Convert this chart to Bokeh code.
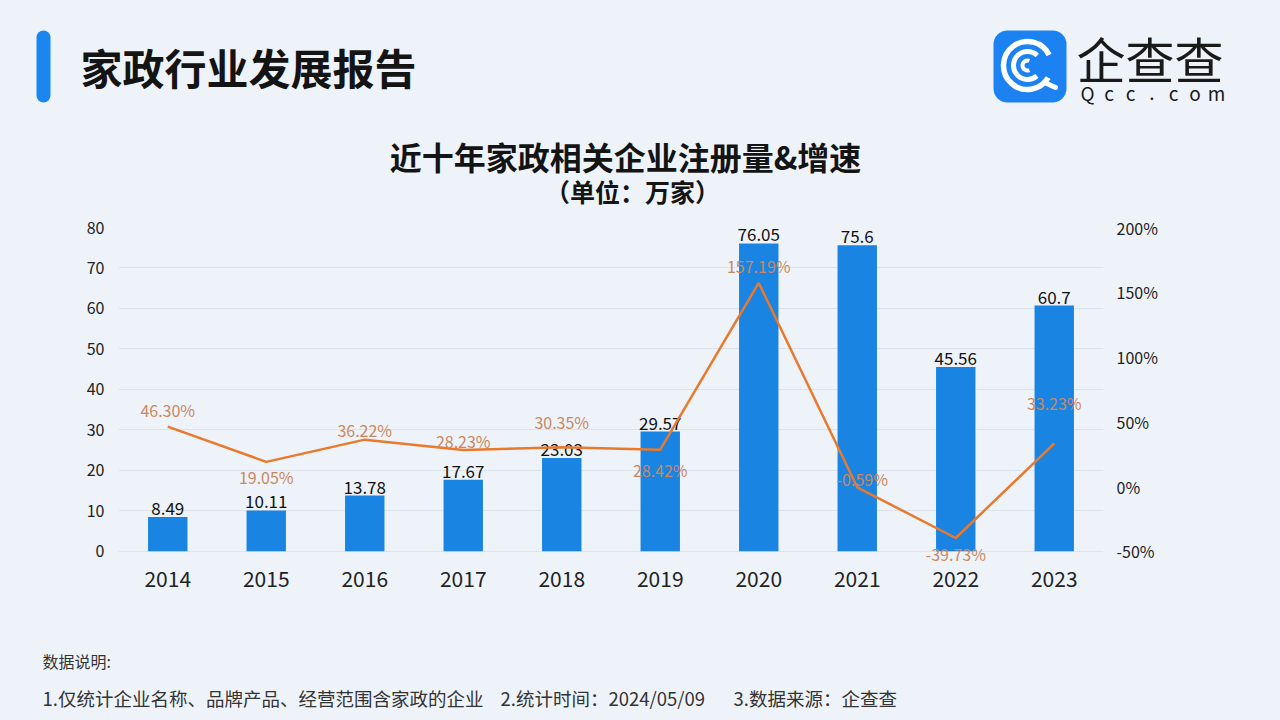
from bokeh.plotting import figure
from bokeh.models import (Range1d, FactorRange, LinearAxis, FixedTicker, PrintfTickFormatter,
                          ColumnDataSource, LabelSet)
from bokeh.layouts import column
from bokeh.embed import file_html
from bokeh.resources import INLINE
from bokeh.core.properties import value

# ---------------- data ----------------
years = ["2014", "2015", "2016", "2017", "2018", "2019", "2020", "2021", "2022", "2023"]
registrations = [8.49, 10.11, 13.78, 17.67, 23.03, 29.57, 76.05, 75.6, 45.56, 60.7]   # 万家
growth_pct = [46.30, 19.05, 36.22, 28.23, 30.35, 28.42, 157.19, -0.59, -39.73, 33.23]  # %
left_ticks = [0, 10, 20, 30, 40, 50, 60, 70, 80]
right_ticks = [-50, 0, 50, 100, 150, 200]

main_title = "家政行业发展报告"
chart_title = "近十年家政相关企业注册量&增速"
chart_subtitle = "（单位：万家）"
note_head = "数据说明:"
note_parts = ["1.仅统计企业名称、品牌产品、经营范围含家政的企业",
              "2.统计时间：2024/05/09",
              "3.数据来源：企查查"]

# ---------------- style ----------------
FONT_NAME = "Noto Sans CJK SC"
FONT = value(FONT_NAME)
BG = "#eef3fa"
BAR = "#1a84e3"
LINE = "#e8792d"
PCT_TXT = "#c98860"
pct_label_dy = [-17, 15, -10, -9, -25, 20, -17, -8, 16, -41]   # px, + = down
pct_label_dx = [0, 0, 0, 0, 0, 0, 0, 5, 0, 0]
note_x = [42, 500, 733]

W = 1280


def blank(h, y0, y1):
    f = figure(width=W, height=h, x_range=Range1d(0, W), y_range=Range1d(y1, y0),
               output_backend="svg", toolbar_location=None, min_border=0,
               x_axis_type=None, y_axis_type=None, frame_align=False)
    f.grid.visible = False
    f.outline_line_color = None
    f.background_fill_color = BG
    f.border_fill_color = BG
    return f


# ---------------- header ----------------
head = blank(215, 0, 215)
head.quad(left=[36], right=[50], top=[30], bottom=[102], fill_color="#1a86f0",
          line_color=None, border_radius=7)
head.text(x=[80], y=[66], text=[main_title], text_font=FONT, text_font_size="42px",
          text_font_style="bold", text_baseline="middle", text_color="#141414")

# logo
head.quad(left=[993], right=[1066], top=[30], bottom=[102], fill_color="#1c82f2",
          line_color=None, border_radius=14)
cx, cy = 1027, 65
head.arc(x=[cx], y=[cy], radius=24, start_angle=0.45, end_angle=5.75,
         line_color="white", line_width=5.5)
head.arc(x=[cx], y=[cy], radius=14, start_angle=0.8, end_angle=5.45,
         line_color="white", line_width=5)
head.arc(x=[cx], y=[cy], radius=5, start_angle=1.2, end_angle=5.1,
         line_color="white", line_width=4)
head.segment(x0=[cx + 17], y0=[cy + 17], x1=[cx + 28], y1=[cy + 22],
             line_color="white", line_width=5, line_cap="round")
head.text(x=[1076], y=[57], text=["企查查"], text_font=FONT, text_font_size="49px",
          text_baseline="middle", text_color="#1a1a1a")
qcc = list("Qcc.com")
head.text(x=[1087 + 21.5 * i for i in range(len(qcc))], y=[92] * len(qcc), text=qcc,
          text_font=FONT, text_font_size="19px", text_align="center",
          text_baseline="middle", text_color="#1a1a1a")

head.text(x=[625], y=[155], text=[chart_title], text_font=FONT, text_font_size="32px",
          text_font_style="bold", text_align="center", text_baseline="middle",
          text_color="#141414")
head.text(x=[632], y=[190], text=[chart_subtitle], text_font=FONT, text_font_size="25px",
          text_font_style="bold", text_align="center", text_baseline="middle",
          text_color="#141414")

# ---------------- chart ----------------
src = ColumnDataSource(dict(
    years=years,
    reg=registrations,
    reg_txt=[str(v) for v in registrations],
    pct=growth_pct,
    pct_txt=[f"{v:.2f}%" for v in growth_pct],
    dy=[-d for d in pct_label_dy],
    dx=pct_label_dx,
))

p = figure(width=W, height=425, x_range=FactorRange(*years, range_padding=0),
           y_range=Range1d(-4, 80), output_backend="svg", toolbar_location=None,
           min_border_left=118, min_border_right=177, min_border_top=12,
           min_border_bottom=73, frame_align=False)
p.extra_y_ranges = {"pct": Range1d(-62.5, 200)}
p.background_fill_color = BG
p.border_fill_color = BG
p.outline_line_color = None
p.xgrid.visible = False
p.ygrid.grid_line_color = "#dce3ec"
p.ygrid.grid_line_width = 1
p.ygrid.ticker = FixedTicker(ticks=left_ticks)

p.vbar(x="years", top="reg", width=0.4, source=src, fill_color=BAR, line_color=None)
p.text(x="years", y="reg", text="reg_txt", source=src, text_font=FONT,
       text_font_size="17px", text_align="center", text_baseline="bottom",
       y_offset=-2, text_color="#111111")

p.line(x="years", y="pct", source=src, y_range_name="pct", line_color=LINE, line_width=2.5)
p.add_layout(LabelSet(x="years", y="pct", text="pct_txt", source=src, y_range_name="pct",
                      x_offset="dx", y_offset="dy", text_font=FONT,
                      text_font_size="16px", text_align="center", text_baseline="middle",
                      text_color=PCT_TXT))

# axes
p.yaxis.ticker = FixedTicker(ticks=left_ticks)
right = LinearAxis(y_range_name="pct", ticker=FixedTicker(ticks=right_ticks),
                   formatter=PrintfTickFormatter(format="%d%%"))
p.add_layout(right, "right")
for ax in [p.xaxis[0], p.yaxis[0], right]:
    ax.axis_line_color = None
    ax.major_tick_line_color = None
    ax.minor_tick_line_color = None
    ax.major_tick_out = 0
    ax.major_label_text_font = FONT_NAME
    ax.major_label_text_color = "#222222"
p.xaxis.major_label_text_font_size = "21px"
p.xaxis.major_label_standoff = 3
p.yaxis[0].major_label_text_font_size = "16px"
p.yaxis[0].major_label_standoff = 14
right.major_label_text_font_size = "16px"
right.major_label_standoff = 13

# ---------------- footer ----------------
foot = blank(80, 640, 720)
foot.text(x=[42], y=[660], text=[note_head], text_font=FONT, text_font_size="16px",
          text_baseline="middle", text_color="#333333")
foot.text(x=note_x, y=[697] * len(note_parts), text=note_parts, text_font=FONT,
          text_font_size="18.5px", text_baseline="middle", text_color="#333333")

layout = column(head, p, foot, spacing=0, styles={"background-color": BG})
open("out.html", "w").write(file_html(layout, INLINE))
